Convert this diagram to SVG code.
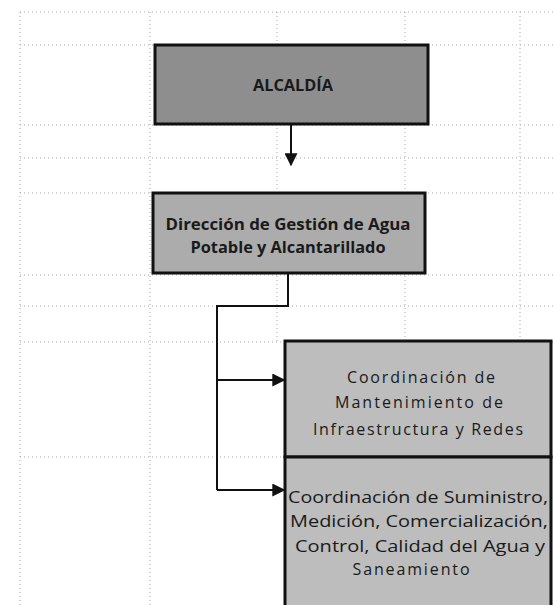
<svg xmlns="http://www.w3.org/2000/svg" width="553" height="605" viewBox="0 0 553 605">
<style>
.grid{stroke:#a8a8a8;stroke-width:1;stroke-dasharray:1 3;fill:none}
.box{stroke:#111;stroke-width:3}
.b{font-family:"Open Sans","Liberation Sans",sans-serif;font-weight:bold;fill:#1a1a1a;text-anchor:middle}
.r{font-family:"Open Sans","Liberation Sans",sans-serif;fill:#1a1a1a;text-anchor:middle;font-size:16px}
.conn{stroke:#111;stroke-width:2;fill:none}
</style>
<defs>
<marker id="ah2" viewBox="0 0 10 10" refX="9" refY="5" markerWidth="13" markerHeight="13" markerUnits="userSpaceOnUse" orient="auto">
<path d="M0,0 L10,5 L0,10 Z" fill="#111"/>
</marker>
</defs>
<rect width="553" height="605" fill="#fff"/>
<g id="grid">
<path class="grid" d="M20,12H553 M20,45H553 M20,125H553 M20,158H553 M20,193H553 M20,275H553 M20,306H553 M20,342H553 M20,457H285"/>
<path class="grid" d="M20,12V605 M150,12V605 M277,12V342 M405,12V342 M520,12V342"/>
</g>
<g id="alcaldia">
<rect class="box" x="155" y="45" width="273" height="79" fill="#8e8e8e"/>
<text class="b" x="293" y="91" font-size="16" textLength="80" lengthAdjust="spacingAndGlyphs">ALCALDÍA</text>
</g>
<g id="direccion">
<rect class="box" x="153" y="193" width="272" height="80" fill="#acacac"/>
<text class="b" x="288" y="230" font-size="16" textLength="245" lengthAdjust="spacingAndGlyphs">Dirección de Gestión de Agua</text>
<text class="b" x="288" y="253" font-size="16" textLength="195" lengthAdjust="spacingAndGlyphs">Potable y Alcantarillado</text>
</g>
<g id="mantenimiento">
<rect class="box" x="285" y="341" width="266" height="116" fill="#bdbdbd"/>
<text class="r" x="421" y="383" textLength="148" lengthAdjust="spacing">Coordinación de</text>
<text class="r" x="419" y="408" textLength="168" lengthAdjust="spacing">Mantenimiento de</text>
<text class="r" x="418" y="435" textLength="210" lengthAdjust="spacing">Infraestructura y Redes</text>
</g>
<g id="suministro">
<rect class="box" x="285" y="457" width="266" height="160" fill="#bdbdbd"/>
<text class="r" x="418" y="503" textLength="260" lengthAdjust="spacingAndGlyphs">Coordinación de Suministro,</text>
<text class="r" x="419" y="527" textLength="258" lengthAdjust="spacingAndGlyphs">Medición, Comercialización,</text>
<text class="r" x="420" y="552" textLength="250" lengthAdjust="spacingAndGlyphs">Control, Calidad del Agua y</text>
<text class="r" x="411" y="575" textLength="117" lengthAdjust="spacing">Saneamiento</text>
</g>
<g id="connectors">
<path class="conn" d="M291,125V165" marker-end="url(#ah2)"/>
<path class="conn" d="M288,274V306H217V490"/>
<path class="conn" d="M217,380H284" marker-end="url(#ah2)"/>
<path class="conn" d="M217,490H284" marker-end="url(#ah2)"/>
</g>
</svg>
